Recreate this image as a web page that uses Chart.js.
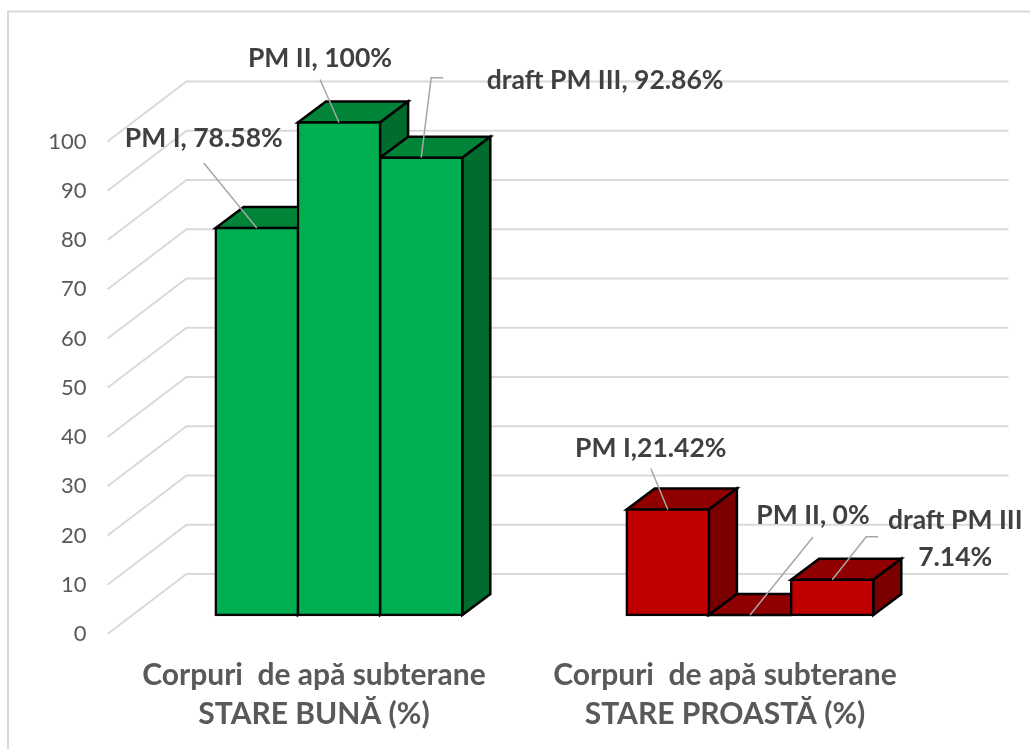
<!DOCTYPE html>
<html>
<head>
<meta charset="utf-8">
<style>
  body { margin: 0; background: #fff; }
  canvas { display: block; }
</style>
<script src="https://cdn.jsdelivr.net/npm/chart.js@4"></script>
</head>
<body>
<canvas id="myChart" width="1030" height="749"></canvas>
<script>
const categories = [
    ['Corpuri  de apă subterane', 'STARE BUNĂ (%)'],
    ['Corpuri  de apă subterane', 'STARE PROASTĂ (%)']
];
const seriesNames = ['PM I', 'PM II', 'draft PM III'];
const pmI = [78.58, 21.42];
const pmII = [100, 0];
const draftPmIII = [92.86, 7.14];

const pmILabels = ['PM I, 78.58%', 'PM I,21.42%'];
const pmIILabels = ['PM II, 100%', 'PM II, 0%'];
const draftLabels = ['draft PM III, 92.86%', 'draft PM III\n7.14%'];

// colours per category: good / bad
const frontColors = ['#00B050', '#C00000'];
const topColors = ['#008438', '#900000'];
const sideColors = ['#006C2E', '#7A0000'];

// oblique depth of the fake 3D
const wallDx = 79, wallDy = -60;   // front plane -> back wall
const barShiftX = 25, barShiftY = -19; // front plane -> bar front
const barDx = 28, barDy = -21;     // bar depth

const grey = '#D9D9D9';
const labelFont = 'bold 26.5px Lato';

// label centre and leader line, relative to the top centre of each bar
const labelLayout = [
    [
        { text: [-53, -90], line: [[-53, -65], [0, 0]] },
        { text: [-19, -64], line: [[-19, -43], [0, 0]] },
        { text: [184, -77], line: [[22, -80], [10, -80], [0, 0]] }
    ],
    [
        { text: [-17, -61], line: [[-17, -41], [0, 0]] },
        { text: [63, -100], line: [[63, -78], [0, 0]] },
        { text: [123, -59], line: [[46, -43], [34, -43], [0, 0]] }
    ]
];

const wall3d = {
    id: 'wall3d',
    beforeDraw(chart) {
        const c = chart.ctx;
        c.save();
        c.strokeStyle = grey;
        c.lineWidth = 2;
        c.beginPath();
        c.moveTo(8, 749);
        c.lineTo(8, 11.5);
        c.lineTo(1030, 11.5);
        c.stroke();
        c.restore();
    },
    beforeDatasetsDraw(chart) {
        const c = chart.ctx;
        const y = chart.scales.y;
        const area = chart.chartArea;
        c.save();
        c.strokeStyle = grey;
        c.lineWidth = 2;
        y.ticks.forEach(t => {
            const py = y.getPixelForValue(t.value);
            c.beginPath();
            c.moveTo(area.left - 1, py);
            c.lineTo(area.left - 1 + wallDx, py + wallDy);
            c.lineTo(area.right - 1 + wallDx, py + wallDy);
            c.stroke();
        });
        c.restore();

        // the library draws the bar fronts, shifted back into the box
        c.save();
        c.translate(barShiftX, barShiftY);
        c.strokeStyle = '#000';
        c.lineWidth = 2.5;
        c.lineJoin = 'miter';
        chart.data.datasets.forEach((ds, i) => {
            chart.getDatasetMeta(i).data.forEach((el, j) => {
                const l = el.x - el.width / 2, r = el.x + el.width / 2;
                const top = el.y, base = el.base;
                c.fillStyle = topColors[j];
                c.beginPath();
                c.moveTo(l, top);
                c.lineTo(l + barDx, top + barDy);
                c.lineTo(r + barDx, top + barDy);
                c.lineTo(r, top);
                c.closePath();
                c.fill();
                c.stroke();
                c.fillStyle = sideColors[j];
                c.beginPath();
                c.moveTo(r, top);
                c.lineTo(r + barDx, top + barDy);
                c.lineTo(r + barDx, base + barDy);
                c.lineTo(r, base);
                c.closePath();
                c.fill();
                c.stroke();
            });
        });
    },
    afterDatasetsDraw(chart) {
        chart.ctx.restore();
    },
    afterDraw(chart) {
        const c = chart.ctx;
        const texts = [pmILabels, pmIILabels, draftLabels];
        c.save();
        chart.data.datasets.forEach((ds, i) => {
            chart.getDatasetMeta(i).data.forEach((el, j) => {
                const ax = el.x + barShiftX, ay = el.y + barShiftY;
                const lay = labelLayout[j][i];
                c.strokeStyle = '#A6A6A6';
                c.lineWidth = 1.5;
                c.beginPath();
                lay.line.forEach((p, k) => {
                    if (k === 0) c.moveTo(ax + p[0], ay + p[1]);
                    else c.lineTo(ax + p[0], ay + p[1]);
                });
                c.stroke();
                c.fillStyle = '#404040';
                c.font = labelFont;
                c.textAlign = 'center';
                c.textBaseline = 'middle';
                texts[i][j].split('\n').forEach((line, k) => {
                    c.fillText(line, ax + lay.text[0], ay + lay.text[1] + k * 37);
                });
            });
        });
        c.restore();
    }
};

const barStyle = {
    borderColor: '#000',
    borderWidth: 2.5,
    borderSkipped: false,
    inflateAmount: 1.25,
    categoryPercentage: 0.6,
    barPercentage: 1,
    clip: false
};

new Chart(document.getElementById('myChart').getContext('2d'), {
    type: 'bar',
    data: {
        labels: categories,
        datasets: [
            { label: seriesNames[0], data: pmI, backgroundColor: frontColors, ...barStyle },
            { label: seriesNames[1], data: pmII, backgroundColor: frontColors, ...barStyle },
            { label: seriesNames[2], data: draftPmIII, backgroundColor: frontColors, ...barStyle }
        ]
    },
    options: {
        responsive: false,
        animation: false,
        layout: { padding: { top: 141.5, right: 99.5, left: 0, bottom: 0 } },
        plugins: { legend: { display: false }, tooltip: { enabled: false } },
        scales: {
            x: {
                grid: { display: false },
                border: { display: false },
                afterFit(scale) { scale.height = 115; },
                ticks: {
                    color: '#595959',
                    font: { family: 'Lato', size: 30, weight: 'bold', lineHeight: '39px' },
                    padding: 14,
                    maxRotation: 0,
                    autoSkip: false
                }
            },
            y: {
                min: 0,
                max: 100,
                grid: { display: false },
                border: { display: false },
                afterFit(scale) { scale.width = 108.5; },
                ticks: {
                    stepSize: 10,
                    color: '#595959',
                    font: { family: 'Lato', size: 22 },
                    padding: 14
                }
            }
        }
    },
    plugins: [wall3d]
});
</script>
</body>
</html>
